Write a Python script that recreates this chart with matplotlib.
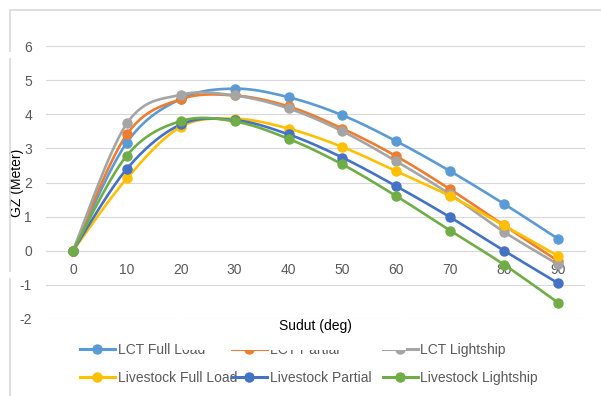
import numpy as np
import matplotlib
matplotlib.use("Agg")
import matplotlib.pyplot as plt
from matplotlib.lines import Line2D
from matplotlib.patches import Rectangle

plt.rcParams['font.family'] = ['Liberation Sans', 'DejaVu Sans']
plt.rcParams['axes.unicode_minus'] = False

# heel angle (deg)
angles = [0, 10, 20, 30, 40, 50, 60, 70, 80, 90]

# GZ values (m)
lct_full = [0, 3.17, 4.45, 4.75, 4.50, 3.97, 3.21, 2.33, 1.37, 0.35]
lct_partial = [0, 3.41, 4.44, 4.55, 4.23, 3.58, 2.77, 1.80, 0.74, -0.30]
lct_light = [0, 3.73, 4.57, 4.55, 4.17, 3.50, 2.62, 1.65, 0.55, -0.40]
live_full = [0, 2.12, 3.63, 3.87, 3.58, 3.04, 2.33, 1.60, 0.74, -0.15]
live_partial = [0, 2.40, 3.70, 3.83, 3.41, 2.73, 1.89, 0.98, 0.00, -0.95]
live_light = [0, 2.79, 3.80, 3.79, 3.28, 2.53, 1.60, 0.59, -0.41, -1.52]

series_names = ['LCT Full Load', 'LCT Partial', 'LCT Lightship',
                'Livestock Full Load', 'Livestock Partial', 'Livestock Lightship']
series_vals = [lct_full, lct_partial, lct_light, live_full, live_partial, live_light]
colors = ['#5B9BD5', '#ED7D31', '#A5A5A5', '#FFC000', '#4472C4', '#70AD47']


def smooth(x, y, n=30):
    """Excel-like smoothed line: Catmull-Rom segments as cubic Bezier"""
    p = np.column_stack([x, y]).astype(float)
    pts = np.vstack([p[0], p, p[-1]])
    t = np.linspace(0, 1, n)[:, None]
    out = []
    for i in range(1, len(pts) - 2):
        p0, p1, p2, p3 = pts[i - 1], pts[i], pts[i + 1], pts[i + 2]
        c1 = p1 + (p2 - p0) / 6
        c2 = p2 - (p3 - p1) / 6
        seg = ((1 - t) ** 3) * p1 + 3 * ((1 - t) ** 2) * t * c1 \
            + 3 * (1 - t) * t ** 2 * c2 + t ** 3 * p2
        out.append(seg if i == 1 else seg[1:])
    out = np.vstack(out)
    return out[:, 0], out[:, 1]


W, H = 601, 396
fig = plt.figure(figsize=(W / 100, H / 100), dpi=100)
ax = fig.add_axes([46 / W, 1 - 319 / H, (585 - 46) / W, (319 - 46) / H])

text_gray = '#595959'
grid_gray = '#D9D9D9'

for vals, c in zip(series_vals, colors):
    xs, ys = smooth(angles, vals)
    ax.plot(xs, ys, color=c, lw=1.9, solid_capstyle='round', zorder=3)
    ax.plot(angles, vals, 'o', color=c, ms=6.5, zorder=4)

ax.set_xlim(-5, 95)
ax.set_ylim(-2, 6)
ax.set_yticks(range(-2, 7))
ax.set_xticks(angles)
ax.grid(axis='y', color=grid_gray, lw=0.8)
ax.set_axisbelow(True)
for s in ['top', 'right', 'left']:
    ax.spines[s].set_visible(False)
ax.spines['bottom'].set_position(('data', 0))
ax.spines['bottom'].set_color(grid_gray)
ax.spines['bottom'].set_linewidth(0.8)
ax.tick_params(axis='both', length=0, labelcolor=text_gray, labelsize=10)
ax.tick_params(axis='x', pad=9)
ax.tick_params(axis='y', pad=10)

ax.set_ylabel('GZ (Meter)', fontsize=10, color='black')
ax.yaxis.set_label_coords(-0.04, 0.5)
ax.text(0.5, -0.025, 'Sudut (deg)', transform=ax.transAxes, ha='center', va='center',
        fontsize=10, color='black')

# legend: three columns, two rows each
handles = [Line2D([], [], color=c, lw=2.2, marker='o', ms=6.5) for c in colors]
col_x = [80, 232, 383]
for j in range(3):
    fig.legend([handles[j], handles[j + 3]], [series_names[j], series_names[j + 3]],
               loc='upper left', bbox_to_anchor=(col_x[j] / W, 1 - 343 / H),
               frameon=False, fontsize=10, handlelength=2.5, handletextpad=0.2,
               labelspacing=1.0, borderpad=0, borderaxespad=0,
               labelcolor=text_gray)

# chart area border
fig.add_artist(Rectangle((10 / W, -0.1), 1.0, 1 - 10 / H + 0.1, transform=fig.transFigure,
                         fill=False, edgecolor=grid_gray, lw=1.2))

# white patches pasted over the original screenshot
for x0, y0, w, h in [(183, 334, 223, 16), (178, 316, 7, 6), (400, 316, 6, 6),
                     (7, 52, 7, 6), (7, 272, 7, 6)]:
    fig.add_artist(Rectangle((x0 / W, 1 - (y0 + h) / H), w / W, h / H,
                             transform=fig.transFigure, facecolor='white',
                             edgecolor='none', zorder=10))

fig.savefig('out.png', dpi=100, facecolor='white')
